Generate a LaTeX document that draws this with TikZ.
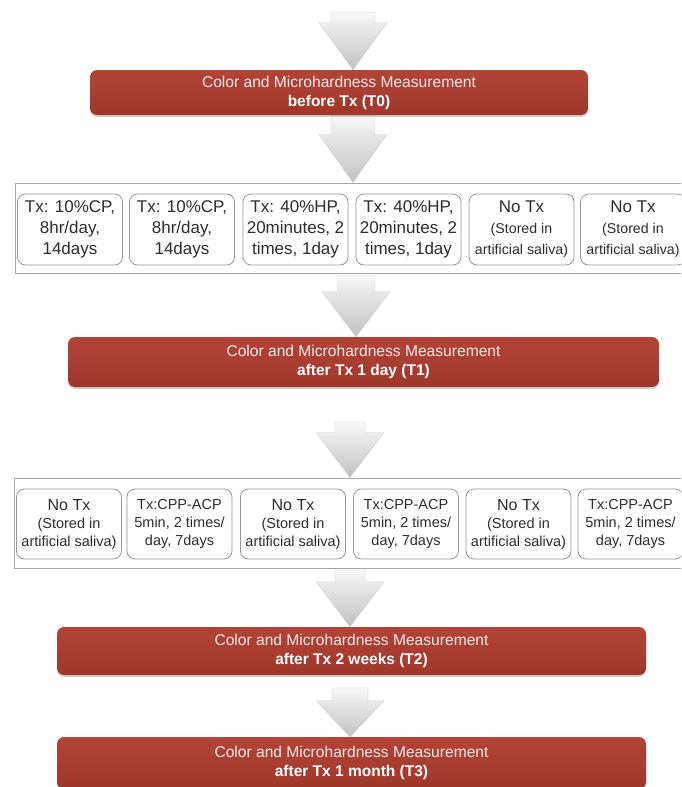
\documentclass[tikz,border=0pt]{standalone}
\usepackage{fontspec}
\setmainfont{Liberation Sans}
\usetikzlibrary{calc,shadows,backgrounds}
\definecolor{boxredtop}{RGB}{178,68,55}
\definecolor{boxredbot}{RGB}{160,54,42}
\definecolor{redtext}{RGB}{242,234,232}
\definecolor{framegray}{RGB}{165,165,165}
\definecolor{innergray}{RGB}{150,150,150}
\definecolor{txt}{RGB}{45,45,45}
\tikzset{
 measure/.style={rounded corners=7pt, top color=boxredtop, bottom color=boxredbot, draw=none,
   text=redtext, align=center, inner sep=0pt, font=\fontsize{15.6}{19}\selectfont,
   drop shadow={opacity=0.35, shadow xshift=0pt, shadow yshift=-2pt}},
 panel/.style={draw=framegray, line width=1pt, fill=white, inner sep=0pt},
 group/.style={draw=innergray, line width=0.8pt, rounded corners=8pt, fill=white, text=txt,
   align=center, inner sep=0pt, minimum width=105pt},
 rowone/.style={group, minimum height=71pt, font=\fontsize{17}{21}\selectfont},
 rowtwo/.style={group, minimum height=70pt, font=\fontsize{14.5}{18}\selectfont},
 arrowshade/.style={top color=gray!6, bottom color=gray!48, draw=gray!40, line width=0.3pt},
}
\newcommand\flowarrow[4]{%
 \path[arrowshade] let \p1=(#1), \p2=(#2) in
  (\x1-#3pt,\y1) -- (\x1+#3pt,\y1) -- (\x1+#3pt,\y2+#4pt) -- (\x1+34pt,\y2+#4pt)
  -- (\x1,\y2) -- (\x1-34pt,\y2+#4pt) -- (\x1-#3pt,\y2+#4pt) -- cycle;}
\newcommand\boldline[1]{{\fontsize{15.5}{19}\selectfont\bfseries\color{white}#1}}
\newcommand\smallone{\fontsize{14.2}{17}\selectfont}
\newcommand\notx{\fontsize{17}{20}\selectfont No Tx\\\smallone (Stored in\\\smallone artificial saliva)}
\newcommand\notxb{\fontsize{16}{19}\selectfont No Tx\\(Stored in\\artificial saliva)}
\begin{document}
\begin{tikzpicture}[x=1pt,y=-1pt]
\useasboundingbox (0,0) rectangle (681,787);
\clip (0,0) rectangle (681,787);

% measurement boxes
\node[measure, minimum width=498pt, minimum height=45pt] (T0) at (339,92.5)
  {Color and Microhardness Measurement\\\boldline{before Tx (T0)}};
\node[measure, minimum width=591pt, minimum height=50pt] (T1) at (363.5,362)
  {Color and Microhardness Measurement\\\boldline{after Tx 1 day (T1)}};
\node[measure, minimum width=589pt, minimum height=48pt] (T2) at (351.5,651)
  {Color and Microhardness Measurement\\\boldline{after Tx 2 weeks (T2)}};
\node[measure, minimum width=589pt, minimum height=52pt] (T3) at (351.5,763)
  {Color and Microhardness Measurement\\\boldline{after Tx 1 month (T3)}};

% first treatment panel
\node[panel, minimum width=690pt, minimum height=90pt] (out1) at (360,228) {};
\node[rowone] (a1) at (70,229.5) {Tx: 10\%CP,\\8hr/day,\\14days};
\node[rowone] (a2) at (182,229.5) {Tx: 10\%CP,\\8hr/day,\\14days};
\node[rowone] (a3) at (295.5,229.5) {Tx: 40\%HP,\\20minutes, 2\\times, 1day};
\node[rowone] (a4) at (408.5,229.5) {Tx: 40\%HP,\\20minutes, 2\\times, 1day};
\node[rowone] (a5) at (521.5,229.5) {\notx};
\node[rowone] (a6) at (633,229.5) {\notx};

% second treatment panel
\node[panel, minimum width=690pt, minimum height=90pt] (out2) at (359,523) {};
\node[rowtwo] (b1) at (69,524) {\notxb};
\node[rowtwo] (b2) at (179.5,524) {Tx:CPP-ACP\\5min, 2 times/\\day, 7days};
\node[rowtwo] (b3) at (293,524) {\notxb};
\node[rowtwo] (b4) at (406,524) {Tx:CPP-ACP\\5min, 2 times/\\day, 7days};
\node[rowtwo] (b5) at (518.5,524) {\notxb};
\node[rowtwo] (b6) at (630.5,524) {Tx:CPP-ACP\\5min, 2 times/\\day, 7days};

\coordinate (c1) at (353,0);
\coordinate (c3) at (356,0);
\coordinate (c4) at (350,0);

\begin{pgfonlayer}{background}
\fill[white] (0,0) rectangle (681,787);
\flowarrow{353,12}{c1 |- T0.north}{22}{47}
\flowarrow{c1 |- T0.south}{c1 |- out1.north}{22}{48}
\flowarrow{356,275}{c3 |- T1.north}{19}{45}
\flowarrow{350,422}{c4 |- out2.north}{15}{45}
\flowarrow{c4 |- out2.south}{c4 |- T2.north}{15}{45}
\flowarrow{350,688}{c4 |- T3.north}{18}{36}
\end{pgfonlayer}
\end{tikzpicture}
\end{document}
